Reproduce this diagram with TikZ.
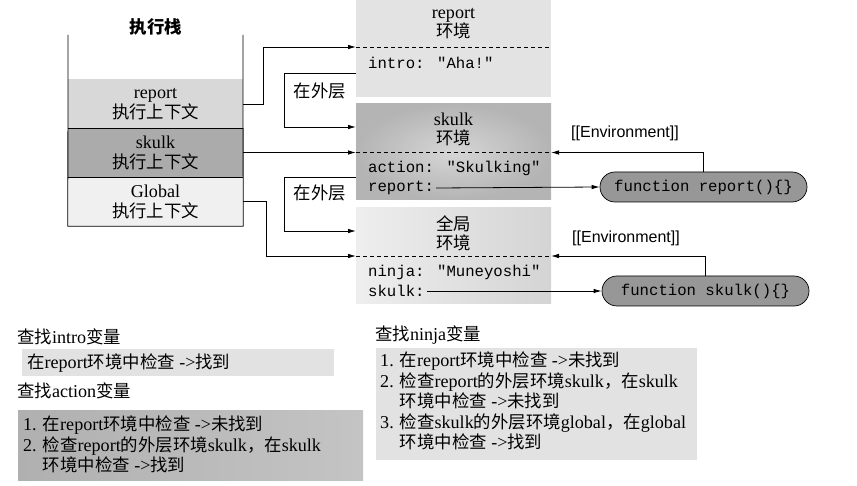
\documentclass[tikz,border=0pt]{standalone}
\usepackage{fontspec}
\setmainfont[Scale=1.04]{Liberation Serif}
\newfontfamily\zh{Noto Sans CJK SC}
\newfontfamily\mono[Scale=0.9]{Liberation Mono}
\newfontfamily\sans[Scale=0.92]{Liberation Sans}
\usetikzlibrary{arrows.meta,shadings}
\definecolor{envlight}{HTML}{E3E3E3}
\definecolor{envdark}{HTML}{B4B4B4}
\definecolor{stkrep}{HTML}{D8D8D8}
\definecolor{stksk}{HTML}{ABABAB}
\definecolor{stkgl}{HTML}{F0F0F0}
\definecolor{fnfill}{HTML}{979797}
\definecolor{boxlight}{HTML}{E2E2E2}
\definecolor{boxdark}{HTML}{B0B0B0}
\tikzset{
  every node/.style={font=\fontsize{17.4}{20}\selectfont},
  stackbox/.style={minimum width=175pt,minimum height=49pt,inner sep=0pt,align=center,font=\fontsize{17.4}{20}\selectfont},
  envbox/.style={minimum width=195pt,minimum height=96pt,inner sep=0pt},
  envtitle/.style={align=center,inner sep=0pt,font=\fontsize{17.4}{19}\selectfont},
  envvar/.style={anchor=west,inner sep=2pt,font=\mono\fontsize{17.4}{19}\selectfont},
  fnnode/.style={draw=black,line width=0.7pt,fill=fnfill,rounded corners=15pt,minimum width=207pt,minimum height=30pt,inner sep=0pt,font=\mono\fontsize{17.4}{19}\selectfont},
  arr/.style={-{Latex[length=8pt,width=4.5pt]},line width=0.8pt},
  divider/.style={dashed,dash pattern=on 4pt off 3pt,line width=0.8pt},
  plain/.style={line width=0.8pt},
  heading/.style={anchor=west,inner sep=0pt},
  boxtext/.style={anchor=north west,align=left,inner sep=0pt,font=\fontsize{17.4}{20.5}\selectfont},
}
\begin{document}
\begin{tikzpicture}[x=1pt,y=-1pt]
\useasboundingbox (0,0) rectangle (857,486);
% ---------- execution stack ----------
\node[inner sep=0pt] (stitle) at (156,27) {\zh\bfseries 执行栈};
\node[stackbox,fill=stkrep] (sr) at (155.5,104) {report\\{\zh 执行上下文}};
\node[stackbox,fill=stksk] (ss) at (155.5,152.5) {skulk\\{\zh 执行上下文}};
\node[stackbox,fill=stkgl] (sg) at (155.5,201.5) {Global\\{\zh 执行上下文}};
\coordinate (wtl) at (68,35);
\coordinate (wtr) at (243,35);
\draw[plain] (wtl) -- (sg.south west) -- (sg.south east) -- (wtr);
\draw[plain] (sr.south west) -- (sr.south east);
\draw[plain] (ss.south west) -- (ss.south east);
% ---------- environments ----------
\node[envbox,fill=envlight,minimum height=97pt] (renv) at (453.5,48.5) {};
\node[envbox,shading=radial,inner color=envdark!55!white,outer color=envdark] (senv) at (453.5,152) {};
\node[envbox,left color=envlight!60!white,right color=envlight!85!gray] (genv) at (453.5,256) {};
\coordinate (rdivL) at (356,47);   \coordinate (rdivR) at (551,47);
\coordinate (sdivL) at (356,152.5);\coordinate (sdivR) at (551,152.5);
\coordinate (gdivL) at (356,256);  \coordinate (gdivR) at (551,256);
\draw[divider] (rdivL) -- (rdivR);
\draw[divider] (sdivL) -- (sdivR);
\draw[divider] (gdivL) -- (gdivR);
\node[envtitle] (rtitle) at (453.5,24) {report\\{\zh 环境}};
\node[envtitle] (stitle2) at (453.5,129.5) {skulk\\{\zh 环境}};
\node[envtitle] (gtitle) at (453.5,233.5) {{\zh 全局}\\{\zh 环境}};
\node[envvar] (intro) at (366,63) {intro: "Aha!"};
\node[envvar] (action) at (366,168) {action: "Skulking"};
\node[envvar] (repvar) at (366,188) {report:};
\node[envvar] (ninja) at (366,272) {ninja: "Muneyoshi"};
\node[envvar] (skvar) at (366,291) {skulk:};
% ---------- stack -> environments ----------
\coordinate (k1) at (263,0);
\coordinate (k2) at (266,0);
\draw[arr] (sr.east) -| (k1 |- rdivL) -- (rdivL);
\draw[arr] (ss.east) -- (sdivL);
\draw[arr] (sg.east) -| (k2 |- gdivL) -- (gdivL);
% ---------- outer links ----------
\coordinate (o1a) at (356,73);  \coordinate (o1c) at (284,0); \coordinate (o1b) at (356,127);
\coordinate (o2a) at (356,177); \coordinate (o2c) at (284,0); \coordinate (o2b) at (356,231);
\draw[arr] (o1a) -- (o1c |- o1a) |- (o1b);
\draw[arr] (o2a) -- (o2c |- o2a) |- (o2b);
\node[inner sep=0pt] (out1) at (320,91) {\zh 在外层};
\node[inner sep=0pt] (out2) at (320,193) {\zh 在外层};
% ---------- functions ----------
\node[fnnode] (fr) at (703.5,187) {function report()\{\}};
\node[fnnode] (fs) at (705.5,291) {function skulk()\{\}};
\draw[arr] (repvar.east) -- (fr.west);
\draw[arr] (skvar.east) -- (fs.west);
\draw[arr] (fr.north) |- (sdivR);
\draw[arr] (fs.north) |- (gdivR);
\node[inner sep=0pt,font=\sans\fontsize{17.4}{19}\selectfont] (env1) at (625,133) {[[Environment]]};
\node[inner sep=0pt,font=\sans\fontsize{17.4}{19}\selectfont] (env2) at (626,238) {[[Environment]]};
% ---------- lookups ----------
\node[heading] (h1) at (17,337) {{\zh 查找}intro{\zh 变量}};
\fill[boxlight] (22,349) rectangle (334,376);
\node[heading] (b1) at (27,363) {{\zh 在}report{\zh 环境中检查} ->{\zh 找到}};
\node[heading] (h2) at (17,391) {{\zh 查找}action{\zh 变量}};
\shade[left color=boxdark,right color=boxdark!75!white] (18,410) rectangle (363,480);
\node[boxtext] (b2) at (23,416) {1. {\zh 在}report{\zh 环境中检查} ->{\zh 未找到}\\
2. {\zh 检查}report{\zh 的外层环境}skulk{\zh ，在}skulk\\
\hphantom{2. }{\zh 环境中检查} ->{\zh 找到}};
\node[heading] (h3) at (375,335) {{\zh 查找}ninja{\zh 变量}};
\fill[boxlight] (376,348) rectangle (697,460);
\node[boxtext] (b3) at (380,352) {1. {\zh 在}report{\zh 环境中检查} ->{\zh 未找到}\\
2. {\zh 检查}report{\zh 的外层环境}skulk{\zh ，在}skulk\\
\hphantom{2. }{\zh 环境中检查} ->{\zh 未找到}\\
3. {\zh 检查}skulk{\zh 的外层环境}global{\zh ，在}global\\
\hphantom{3. }{\zh 环境中检查} ->{\zh 找到}};
\end{tikzpicture}
\end{document}
